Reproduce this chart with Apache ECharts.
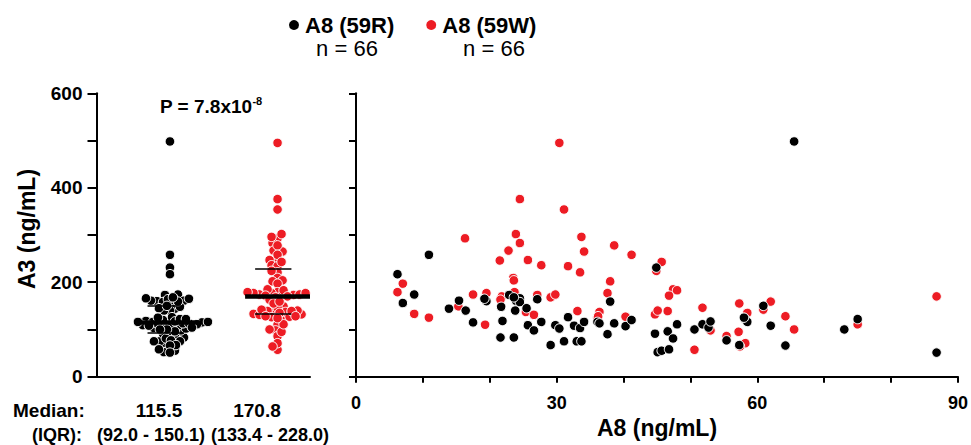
<!DOCTYPE html>
<html>
<head>
<meta charset="utf-8">
<script src="https://cdn.jsdelivr.net/npm/echarts@6/dist/echarts.min.js"></script>
<style>
html,body{margin:0;padding:0;background:#fff;}
#c{width:971px;height:445px;}
</style>
</head>
<body>
<div id="c"></div>
<script>
// ---- data ----
const groupNames = ['A8 (59R)', 'A8 (59W)'];
const groupN = [66, 66];
const medians = [115.5, 170.8];
const q1 = [92.0, 133.4];
const q3 = [150.1, 228.0];
const pLabel = 'P = 7.8x10';
const pExp = '-8';

const blackX = [65.5,10.9,44.9,6.2,7.0,8.7,13.9,15.4,16.4,17.5,19.5,21.6,21.7,21.9,22.9,23.6,23.8,23.9,24.5,24.5,25.5,25.7,26.6,27.1,27.7,29.1,29.8,30.4,31.1,31.7,32.6,33.0,33.7,33.5,34.1,36.1,36.4,37.6,38.0,38.6,40.3,41.2,44.7,45.1,45.7,46.6,46.8,47.4,48.0,50.6,51.8,52.7,53.0,55.4,57.3,58.2,58.5,60.9,62.0,64.2,73.0,75.0,86.8,19.2,23.6,58.0];
const blackY = [498,258,231,217,156,174,144,161,140,115,160,83,148,118,173,83,140,161,166,158,145,109,98,164,116,67,109,102,75,126,108,75,75,103,116,116,113,90,159,113,107,120,91,52,55,96,58,81,111,100,111,104,117,77,67,122,116,150,108,66,100,122,51,165,168,125];

const redX = [30.4,31.1,24.5,16.3,23.9,24.5,22.8,21.5,25.7,27.7,31.7,33.7,34.1,33.5,38.6,41.2,45.7,44.9,23.5,23.6,38.0,7.0,6.2,17.5,19.5,21.8,23.8,27.1,29.1,29.8,37.6,47.4,48.0,46.8,8.7,10.9,15.3,19.3,21.6,25.4,26.6,33.1,36.4,36.1,40.3,44.7,45.1,46.6,50.6,51.8,53.0,55.4,57.3,57.2,58.2,58.5,60.9,62.0,64.2,65.5,75.0,86.8,57.4,58.1,23.7,36.2];
const redY = [495,354,376,293,302,283,267,246,247,236,234,296,265,221,278,258,243,224,209,204,202,197,179,174,177,170,177,173,168,174,177,185,183,171.6,133,125,149,110,163,137,131,139,137,126,127,132,140,139,57,146,98,86,155,95,71,135,142,159,128,100,111,170,64,124,179,128];

const BLACK = '#000000';
const RED = '#ed1c24';

// ---- layout helpers (pixel geometry of the left panel) ----
const L = {left: 96.5, top: 93.3, bottom: 68.3, width: 213.5};
const plotH = 445 - L.top - L.bottom;
const groupCenter = [0.344, 0.848];

function swarm(values, center, D) {
  const pxPerY = plotH / 600;
  const idx = values.map((v, i) => i).sort((a, b) => values[a] - values[b]);
  const placed = [];
  const out = new Array(values.length);
  let flip = 1;
  for (const i of idx) {
    const y = values[i] * pxPerY;
    let best = 0;
    outer:
    for (let k = 0; k <= 120; k++) {
      const cands = k === 0 ? [0] : [k * flip, -k * flip];
      for (const s of cands) {
        let ok = true;
        for (const p of placed) {
          const dx = p.x - s, dy = p.y - y;
          if (dx * dx + dy * dy < D * D) { ok = false; break; }
        }
        if (ok) { best = s; break outer; }
      }
    }
    flip = -flip;
    placed.push({x: best, y: y});
    out[i] = [center + best / L.width, values[i]];
  }
  return out;
}

const swarmBlack = swarm(blackY, groupCenter[0], 5.2);
const swarmRed = swarm(redY, groupCenter[1], 5.4);

const statLines = [];
for (let g = 0; g < 2; g++) {
  const c = groupCenter[g];
  statLines.push({coords: [[c - 0.152, medians[g]], [c + 0.152, medians[g]]], lineStyle: {width: 4.5}});
  statLines.push({coords: [[c - 0.105, q1[g]], [c + 0.065, q1[g]]], lineStyle: {width: 1.6}});
  statLines.push({coords: [[c - 0.105, q3[g]], [c + 0.065, q3[g]]], lineStyle: {width: 1.6}});
}

const chart = echarts.init(document.getElementById('c'), null, {renderer: 'svg'});
const FONT = 'Liberation Sans, Arial, sans-serif';
const axisLine = {show: true, lineStyle: {color: '#000', width: 2}};
const bold = (size) => ({fontSize: size, fontWeight: 'bold', fill: '#000', fontFamily: FONT});

chart.setOption({
  animation: false,
  backgroundColor: '#fff',
  textStyle: {fontFamily: FONT},
  legend: {
    data: groupNames,
    left: 282, top: 9,
    icon: 'circle', itemWidth: 12, itemHeight: 12, itemGap: 30,
    textStyle: {fontSize: 22, fontWeight: 'bold', color: '#000', fontFamily: FONT}
  },
  grid: [
    {left: L.left, top: L.top, bottom: L.bottom, width: L.width},
    {left: 356, top: L.top, bottom: L.bottom, right: 7.5}
  ],
  xAxis: [
    {gridIndex: 0, type: 'value', min: 0, max: 1, axisLine: axisLine,
     axisTick: {show: false}, axisLabel: {show: false}, splitLine: {show: false}},
    {gridIndex: 1, type: 'value', min: 0, max: 90, interval: 10, axisLine: axisLine,
     axisTick: {show: true, length: 6, lineStyle: {width: 2, color: '#000'}},
     axisLabel: {margin: 17, fontSize: 18, fontWeight: 'bold', color: '#000', fontFamily: FONT,
       formatter: v => (v % 30 === 0 ? String(v) : '')},
     splitLine: {show: false},
     name: 'A8 (ng/mL)', nameLocation: 'middle', nameGap: 36,
     nameTextStyle: {fontSize: 23, fontWeight: 'bold', color: '#000', fontFamily: FONT}}
  ],
  yAxis: [
    {gridIndex: 0, type: 'value', min: 0, max: 600, interval: 100, axisLine: axisLine,
     axisTick: {show: true, length: 9, lineStyle: {width: 2, color: '#000'}},
     axisLabel: {margin: 14, fontSize: 19, fontWeight: 'bold', color: '#000', fontFamily: FONT,
       formatter: v => (v % 200 === 0 ? String(v) : '')},
     splitLine: {show: false}},
    {gridIndex: 1, type: 'value', min: 0, max: 600, interval: 100, axisLine: axisLine,
     axisTick: {show: true, length: 7, lineStyle: {width: 2, color: '#000'}},
     axisLabel: {show: false}, splitLine: {show: false}}
  ],
  series: [
    {name: groupNames[0], type: 'scatter', xAxisIndex: 0, yAxisIndex: 0, data: swarmBlack,
     symbolSize: 9.5, itemStyle: {color: BLACK, borderColor: '#fff', borderWidth: 1, opacity: 1}},
    {name: groupNames[1], type: 'scatter', xAxisIndex: 0, yAxisIndex: 0, data: swarmRed,
     symbolSize: 9.5, itemStyle: {color: RED, borderColor: '#fff', borderWidth: 1, opacity: 1}},
    {name: 'stats', type: 'lines', coordinateSystem: 'cartesian2d', xAxisIndex: 0, yAxisIndex: 0,
     z: 5, data: statLines, lineStyle: {color: '#000', opacity: 1}},
    {name: groupNames[1], type: 'scatter', xAxisIndex: 1, yAxisIndex: 1,
     data: redX.map((x, i) => [x, redY[i]]),
     symbolSize: 9.5, itemStyle: {color: RED, borderColor: '#fff', borderWidth: 1, opacity: 1}},
    {name: groupNames[0], type: 'scatter', xAxisIndex: 1, yAxisIndex: 1,
     data: blackX.map((x, i) => [x, blackY[i]]),
     symbolSize: 9.5, itemStyle: {color: BLACK, borderColor: '#fff', borderWidth: 1, opacity: 1}}
  ],
  graphic: [
    {type: 'text', x: 347, y: 48, style: {text: 'n = ' + groupN[0], textAlign: 'center', textVerticalAlign: 'middle', fontSize: 22, fill: '#000', fontFamily: FONT}},
    {type: 'text', x: 494, y: 48, style: {text: 'n = ' + groupN[1], textAlign: 'center', textVerticalAlign: 'middle', fontSize: 22, fill: '#000', fontFamily: FONT}},
    {type: 'text', x: 160, y: 106, style: {
      text: '{a|' + pLabel + '}{b|' + pExp + '}', textAlign: 'left', textVerticalAlign: 'middle',
      rich: {a: Object.assign(bold(19), {lineHeight: 22}),
             b: Object.assign(bold(11), {verticalAlign: 'top', lineHeight: 22})}}},
    {type: 'text', x: 27, y: 229, rotation: Math.PI / 2, style: Object.assign({text: 'A3 (ng/mL)', textAlign: 'center', textVerticalAlign: 'middle'}, bold(23))},
    {type: 'text', x: 13, y: 410, style: Object.assign({text: 'Median:', textAlign: 'left', textVerticalAlign: 'middle'}, bold(19))},
    {type: 'text', x: 159, y: 410, style: Object.assign({text: medians[0].toFixed(1), textAlign: 'center', textVerticalAlign: 'middle'}, bold(19))},
    {type: 'text', x: 257, y: 410, style: Object.assign({text: medians[1].toFixed(1), textAlign: 'center', textVerticalAlign: 'middle'}, bold(19))},
    {type: 'text', x: 32, y: 435, style: Object.assign({text: '(IQR):', textAlign: 'left', textVerticalAlign: 'middle'}, bold(18))},
    {type: 'text', x: 151, y: 435, style: Object.assign({text: '(' + q1[0].toFixed(1) + ' - ' + q3[0].toFixed(1) + ')', textAlign: 'center', textVerticalAlign: 'middle'}, bold(18))},
    {type: 'text', x: 270, y: 435, style: Object.assign({text: '(' + q1[1].toFixed(1) + ' - ' + q3[1].toFixed(1) + ')', textAlign: 'center', textVerticalAlign: 'middle'}, bold(18))}
  ]
});
</script>
</body>
</html>
